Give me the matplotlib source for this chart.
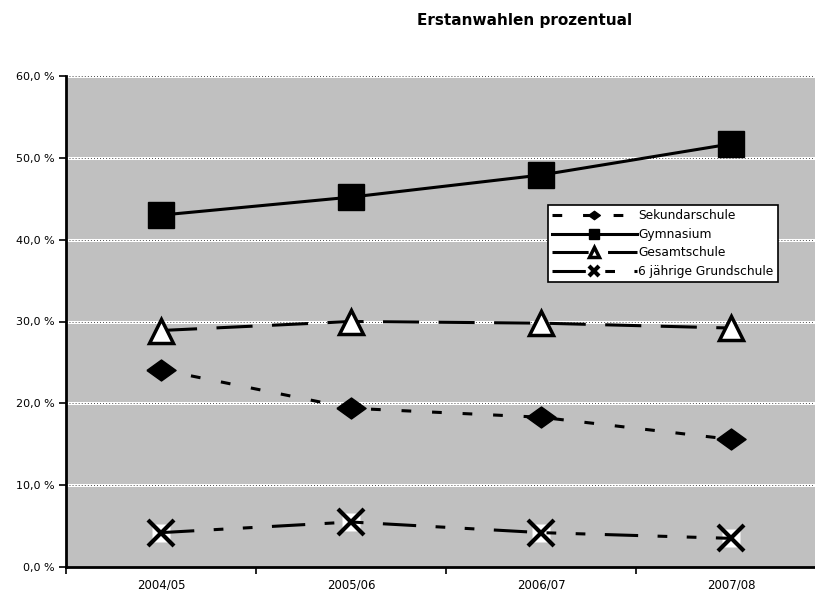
import matplotlib
matplotlib.use("Agg")
import matplotlib.pyplot as plt
import numpy as np

plt.rcParams['font.family'] = ['DejaVu Sans']
plt.rcParams['lines.scale_dashes'] = False

# School years and share of first choices (percent)
years = ["2004/05", "2005/06", "2006/07", "2007/08"]
sekundarschule = [24.1, 19.4, 18.3, 15.6]
gymnasium = [43.0, 45.2, 47.9, 51.7]
gesamtschule = [28.9, 30.0, 29.8, 29.2]
grundschule6 = [4.2, 5.5, 4.2, 3.5]

fig = plt.figure(figsize=(8.15, 5.9), dpi=100)
ax = fig.add_axes([66 / 815, 23 / 590, 760 / 815, 491 / 590])
ax.set_facecolor('#c0c0c0')

x = np.arange(len(years)) + 0.5
ax.set_xlim(0, len(years))
ax.set_ylim(0, 60)

# dotted white/black gridlines
for yv in range(10, 61, 10):
    ax.axhline(yv, color='white', lw=2.2, zorder=1)
    ax.axhline(yv, color='#303030', lw=0.7, ls=(0, (0.6, 1.6)), zorder=1.1)

diamond = [(-1, 0), (0, 0.72), (1, 0), (0, -0.72), (-1, 0)]

l1, = ax.plot(x, sekundarschule, color='black', lw=2.2, dashes=(7, 15),
              marker=diamond, ms=21, mfc='black', mec='black', zorder=3,
              label='Sekundarschule')
l2, = ax.plot(x, gymnasium, color='black', lw=2.2, ls='-',
              marker='s', ms=19, mfc='black', mec='black', zorder=3,
              label='Gymnasium')
l3, = ax.plot(x, gesamtschule, color='black', lw=2.2, dashes=(26, 14),
              marker='^', ms=17, mfc='white', mec='black', mew=2.5, zorder=3,
              label='Gesamtschule')
ax.plot(x, grundschule6, ls='none', marker='s', ms=13, mfc='white',
        mec='none', zorder=3)
l4, = ax.plot(x, grundschule6, color='black', lw=2.2,
              dashes=(24, 14, 7, 14, 7, 14),
              marker='x', ms=19, mec='black', mew=3, zorder=4,
              label='6 jährige Grundschule')

ax.set_yticks(range(0, 61, 10))
ax.set_yticklabels([f"{v},0 %" for v in range(0, 61, 10)], fontsize=8)
ax.set_xticks(x)
ax.set_xticklabels(years, fontsize=8.5)
ax.set_xticks(np.arange(0, len(years) + 1), minor=True)
ax.tick_params(axis='x', which='major', length=0, pad=8)
ax.tick_params(axis='x', which='minor', length=5, width=1.2, direction='out')
ax.tick_params(axis='y', length=5, width=1.2, direction='out', pad=3)

for side in ['top', 'right']:
    ax.spines[side].set_visible(False)
ax.spines['left'].set_linewidth(2)
ax.spines['bottom'].set_linewidth(2)

leg = ax.legend(handles=[l1, l2, l3, l4], loc='upper left',
                bbox_to_anchor=(548 / 815, 1 - 205 / 590),
                bbox_transform=fig.transFigure, borderaxespad=0,
                fontsize=8.8, markerscale=0.4, handlelength=6.9,
                handletextpad=0.15, labelspacing=0.45, borderpad=0.35,
                fancybox=False, framealpha=1, edgecolor='black')
leg.get_frame().set_linewidth(1.2)

fig.text(525 / 815, 1 - 21 / 590, "Erstanwahlen prozentual", ha='center',
         va='center', fontsize=11, fontweight='bold')

fig.savefig('out.png', dpi=100)
